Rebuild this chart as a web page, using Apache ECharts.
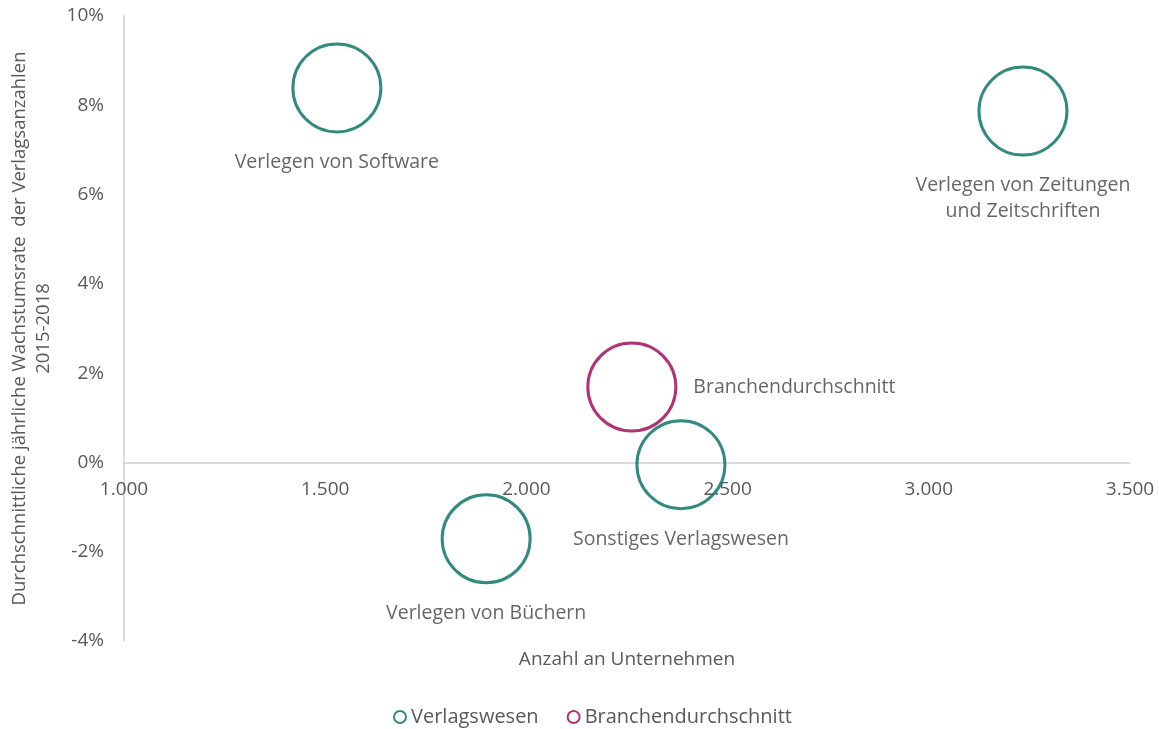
<!DOCTYPE html>
<html>
<head>
<meta charset="utf-8">
<script src="https://cdn.jsdelivr.net/npm/echarts@6/dist/echarts.min.js"></script>
<style>
    html, body { margin: 0; padding: 0; background: #fff; }
    #chart { width: 1159px; height: 729px; }
</style>
</head>
<body>
<div id="chart"></div>
<script>
// Verlagswesen
var verlagNames = ["Verlegen von Software", "Verlegen von Zeitungen\nund Zeitschriften", "Sonstiges Verlagswesen", "Verlegen von Büchern"];
var verlagCounts = [1529, 3234, 2384, 1900];
var verlagGrowth = [8.39, 7.87, -0.05, -1.71];
// Branchendurchschnitt
var avgNames = ["Branchendurchschnitt"];
var avgCounts = [2262];
var avgGrowth = [1.69];
// Achsen
var xTicks = [1000, 1500, 2000, 2500, 3000, 3500];
var yTicks = [-4, -2, 0, 2, 4, 6, 8, 10];

var teal = "#006E5F";
var berry = "#9C0054";
var grey = "#595959";
var font = "Open Sans";

// Position der Beschriftungen
var labelPos = ["bottom", "bottom", "bottom", "bottom"];

function pairs(xs, ys, names, pos) {
    return xs.map(function (x, i) {
        return {
            value: [x, ys[i]],
            name: names[i],
            label: { position: pos[i] }
        };
    });
}

var myChart = echarts.init(document.getElementById("chart"));
var option = {
    textStyle: { fontFamily: font },
    grid: {
        left: 124,
        top: 16,
        width: 1006,
        height: 625,
        outerBoundsMode: "none",
        containLabel: false
    },
    legend: {
        top: 702,
        left: 388,
        itemGap: 28,
        itemWidth: 12,
        itemHeight: 12,
        textStyle: { color: grey, fontSize: 20, fontFamily: font },
        data: [
            // bei emptyCircle wird color zur Randfarbe
            { name: "Verlagswesen", icon: "emptyCircle", itemStyle: { color: teal } },
            { name: "Branchendurchschnitt", icon: "emptyCircle", itemStyle: { color: berry } }
        ]
    },
    xAxis: {
        type: "value",
        min: xTicks[0],
        max: xTicks[xTicks.length - 1],
        interval: 500,
        // Achse auf die 0%-Linie schieben
        offset: -178,
        name: "Anzahl an Unternehmen",
        nameLocation: "middle",
        nameGap: 187,
        nameTextStyle: { color: grey, fontSize: 19, fontFamily: font },
        axisLine: { onZero: false, lineStyle: { color: "#d0d0d0", width: 1.5 } },
        axisTick: { show: false },
        splitLine: { show: false },
        axisLabel: {
            color: grey,
            fontSize: 19,
            margin: 17,
            formatter: function (v) {
                return String(v).replace(/\B(?=(\d{3})+(?!\d))/g, ".");
            }
        }
    },
    yAxis: {
        type: "value",
        min: yTicks[0],
        max: yTicks[yTicks.length - 1],
        interval: 2,
        name: "Durchschnittliche jährliche Wachstumsrate  der Verlagsanzahlen\n2015-2018",
        nameLocation: "middle",
        nameGap: 68,
        nameTextStyle: { color: grey, fontSize: 18.5, fontFamily: font, lineHeight: 24 },
        axisLine: { show: true, onZero: false, lineStyle: { color: "#d0d0d0", width: 1.5 } },
        axisTick: { show: false },
        splitLine: { show: false },
        axisLabel: {
            color: grey,
            fontSize: 19,
            margin: 20,
            formatter: "{value}%"
        }
    },
    series: [
        {
            name: "Verlagswesen",
            type: "scatter",
            symbol: "circle",
            symbolSize: 88,
            itemStyle: { color: "rgba(0,0,0,0)", borderColor: teal, borderWidth: 3 },
            label: {
                show: true,
                formatter: "{b}",
                distance: 16,
                color: "#3f3f3f",
                fontSize: 19.5,
                lineHeight: 26,
                align: "center"
            },
            data: pairs(verlagCounts, verlagGrowth, verlagNames, labelPos)
        },
        {
            name: "Branchendurchschnitt",
            type: "scatter",
            symbol: "circle",
            symbolSize: 88,
            itemStyle: { color: "rgba(0,0,0,0)", borderColor: berry, borderWidth: 3 },
            label: {
                show: true,
                formatter: "{b}",
                position: "right",
                distance: 16,
                color: "#3f3f3f",
                fontSize: 19.5
            },
            data: pairs(avgCounts, avgGrowth, avgNames, ["right"])
        }
    ]
};
myChart.setOption(option);
window.addEventListener("resize", function () {
    myChart.resize();
});
</script>
</body>
</html>
